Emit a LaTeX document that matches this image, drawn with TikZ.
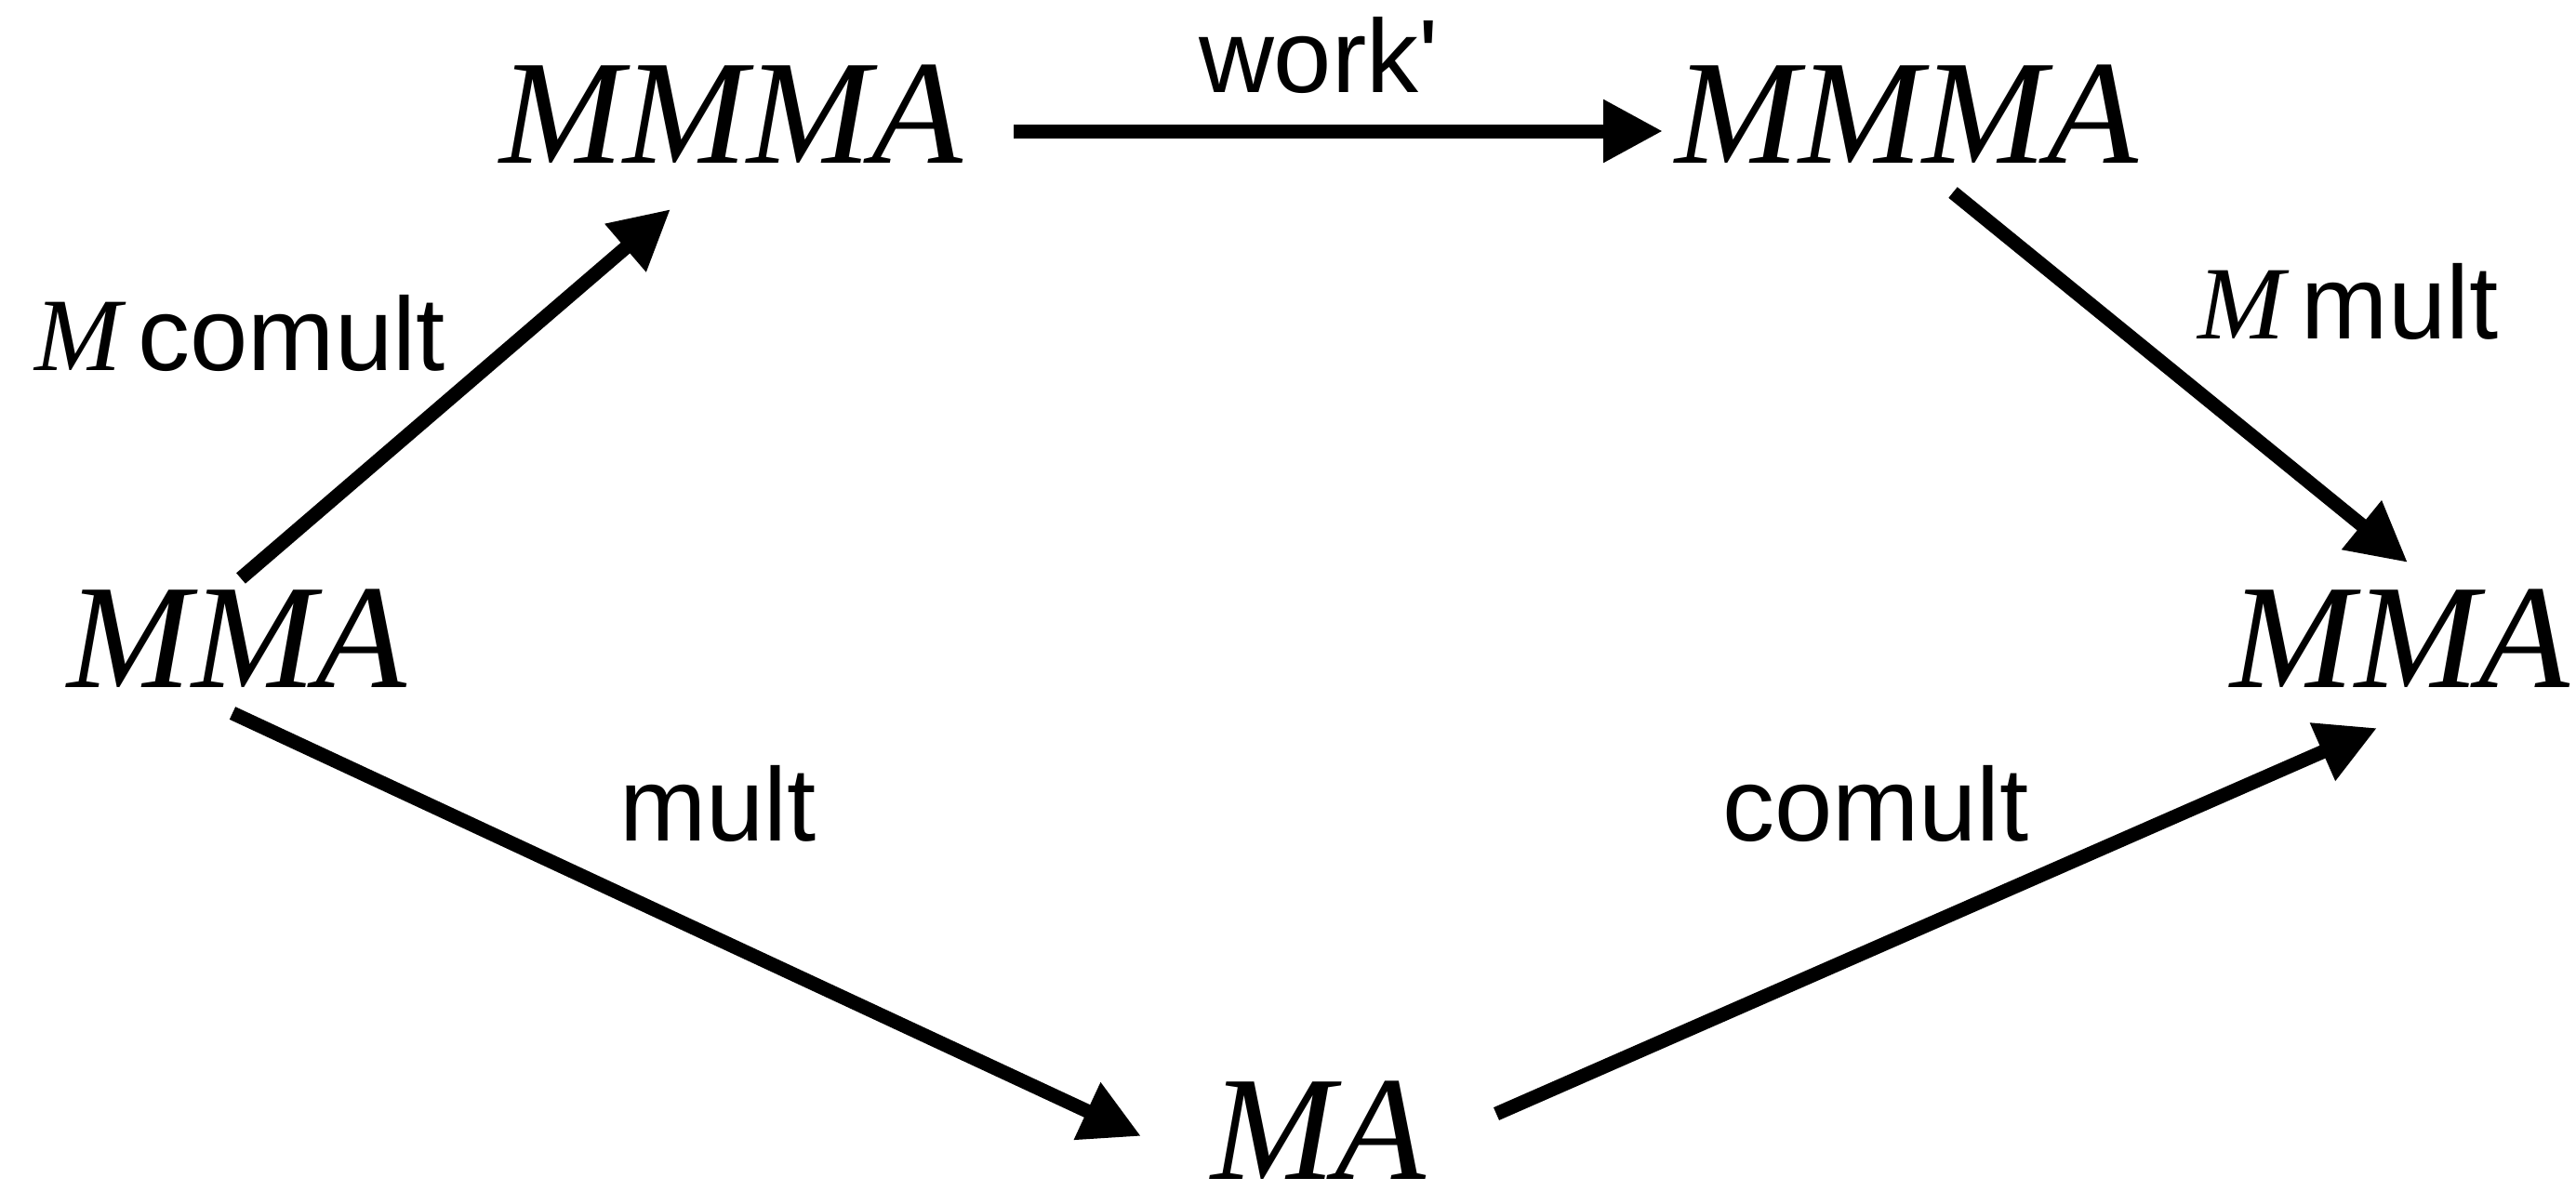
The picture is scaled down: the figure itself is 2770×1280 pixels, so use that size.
\documentclass[tikz,border=0pt]{standalone}
\usepackage{fontspec}
\setmainfont{Liberation Serif}
\setsansfont{Liberation Sans}
\usetikzlibrary{arrows.meta}

\begin{document}
\begin{tikzpicture}[x=0.1pt,y=-0.1pt,
  obj/.style={inner sep=0pt, anchor=base, font=\fontsize{16}{16}\selectfont\itshape},
  lbl/.style={inner sep=0pt, anchor=base, font=\fontsize{11.2}{11.2}\selectfont\sffamily},
  arr/.style={line width=1.5pt, -{Triangle[length=6.4pt,width=6.4pt]}}]
\useasboundingbox (0,0) rectangle (2770,1280);

% objects
\node[obj] (tl) at (786,175)  {MMMA};
\node[obj] (tr) at (2050,175) {MMMA};
\node[obj] (ml) at (255,739)  {MMA};
\node[obj] (mr) at (2581,739) {MMA};
\node[obj] (b)  at (1418,1268) {MA};

% morphisms
\draw[arr] ([shift={(304,-34)}]tl.base) -- ([shift={(-262,-34)}]tr.base);
\draw[arr] ([shift={(4,-117)}]ml.base) -- ([shift={(-65,50)}]tl.base);
\draw[arr] ([shift={(50,32)}]tr.base) -- ([shift={(8,-134)}]mr.base);
\draw[arr] ([shift={(-5,28)}]ml.base) -- ([shift={(-191,-46)}]b.base);
\draw[arr] ([shift={(191,-70)}]b.base) -- ([shift={(-25,44)}]mr.base);

% labels
\node[lbl] (lwork)   at (1418,99)  {work\textquotesingle};
\node[lbl] (lmcom)   at (258,398)  {{\rmfamily\itshape M}\hspace{0.16em}comult};
\node[lbl] (lmmult)  at (2525,364) {{\rmfamily\itshape M}\hspace{0.16em}mult};
\node[lbl] (lmult)   at (772,904)  {mult};
\node[lbl] (lcomult) at (2017,904) {comult};
\end{tikzpicture}
\end{document}
